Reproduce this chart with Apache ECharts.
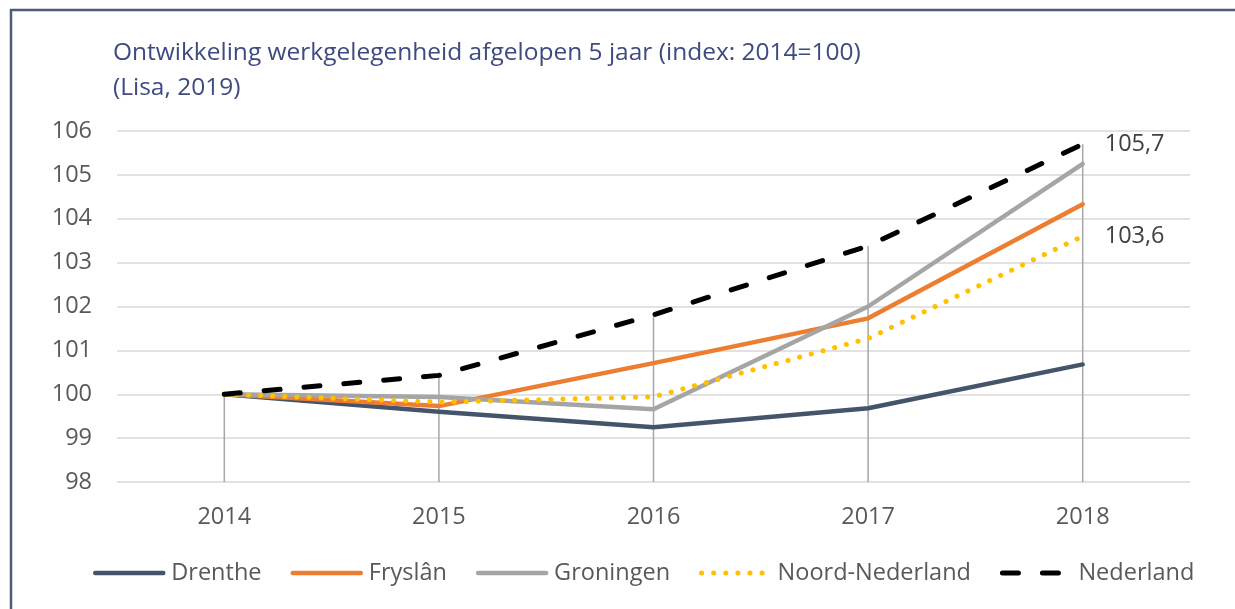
<!DOCTYPE html>
<html>
<head>
<meta charset="utf-8">
<script src="https://cdn.jsdelivr.net/npm/echarts@6/dist/echarts.min.js"></script>
<style>
html,body{margin:0;padding:0;background:#fff;}
#chart{width:1235px;height:609px;}
</style>
</head>
<body>
<div id="chart"></div>
<script>
const years = ['2014', '2015', '2016', '2017', '2018'];
const drenthe = [100, 99.6, 99.25, 99.68, 100.68];
const fryslan = [100, 99.73, 100.71, 101.73, 104.33];
const groningen = [100, 99.94, 99.66, 102.0, 105.25];
const noordNederland = [100, 99.82, 99.94, 101.27, 103.6];
const nederland = [100, 100.43, 101.81, 103.38, 105.7];
const yTicks = [98, 99, 100, 101, 102, 103, 104, 105, 106];

const FONT = '"Open Sans", "Noto Sans", sans-serif';
const FS = 23.5;
const fmt = v => String(v).replace('.', ',');
const allSeries = [drenthe, fryslan, groningen, noordNederland, nederland];
const dropData = years.map((y, i) => [i, Math.max(...allSeries.map(s => s[i]))]);

const chart = echarts.init(document.getElementById('chart'), null, {renderer: 'canvas'});

function lineSeries(name, data, color, extra) {
  return Object.assign({
    name: name,
    type: 'line',
    data: data,
    symbol: 'none',
    z: 3,
    lineStyle: {color: color, width: 4.5, cap: 'round', join: 'round'},
    itemStyle: {color: color}
  }, extra || {});
}

const option = {
  animation: false,
  textStyle: {fontFamily: FONT},
  title: {
    text: 'Ontwikkeling werkgelegenheid afgelopen 5 jaar (index: 2014=100)\n(Lisa, 2019)',
    left: 113,
    top: 36,
    padding: 0,
    textStyle: {fontFamily: FONT, fontSize: 24.5, fontWeight: 'normal', color: '#3e4a80', lineHeight: 35}
  },
  graphic: [
    {type: 'line', shape: {x1: 10, y1: 10, x2: 1235, y2: 10}, style: {stroke: '#4d5b76', lineWidth: 2.5}},
    {type: 'line', shape: {x1: 11, y1: 9, x2: 11, y2: 609}, style: {stroke: '#4d5b76', lineWidth: 2.5}}
  ],
  grid: {left: 117, right: 45, top: 131, bottom: 127, containLabel: false},
  legend: {
    left: 93,
    top: 561,
    padding: 0,
    itemWidth: 68,
    itemHeight: 26,
    itemGap: 29,
    itemStyle: {color: 'rgba(0,0,0,0)', borderWidth: 0, opacity: 0},
    lineStyle: {width: 'inherit'},
    textStyle: {fontFamily: FONT, fontSize: FS, color: '#595959', padding: [0, 0, 0, 3]},
    data: ['Drenthe', 'Fryslân', 'Groningen', 'Noord-Nederland', 'Nederland']
  },
  xAxis: {
    type: 'category',
    data: years,
    boundaryGap: true,
    axisLine: {show: false},
    axisTick: {show: false},
    axisLabel: {fontFamily: FONT, fontSize: FS, color: '#595959', margin: 23}
  },
  yAxis: {
    type: 'value',
    min: yTicks[0],
    max: yTicks[yTicks.length - 1],
    interval: 1,
    axisLine: {show: false},
    axisTick: {show: false},
    splitLine: {lineStyle: {color: '#d9d9d9', width: 1.5}},
    axisLabel: {fontFamily: FONT, fontSize: FS, color: '#595959', margin: 25}
  },
  series: [
    {
      name: 'drop',
      type: 'custom',
      z: 1,
      silent: true,
      data: dropData,
      renderItem: function (params, api) {
        const top = api.coord([api.value(0), api.value(1)]);
        const bottom = api.coord([api.value(0), yTicks[0]]);
        return {
          type: 'line',
          shape: {x1: top[0], y1: top[1], x2: bottom[0], y2: bottom[1]},
          style: {stroke: '#a6a6a6', lineWidth: 1.5}
        };
      }
    },
    lineSeries('Drenthe', drenthe, '#44546a'),
    lineSeries('Fryslân', fryslan, '#ed7d31'),
    lineSeries('Groningen', groningen, '#a5a5a5'),
    lineSeries('Noord-Nederland', noordNederland, '#ffc000', {
      z: 4,
      lineStyle: {color: '#ffc000', width: 5, type: [0.1, 12], cap: 'round', join: 'round'},
      endLabel: {show: true, distance: 22, formatter: p => fmt(p.value), fontFamily: FONT, fontSize: FS, color: '#404040'}
    }),
    lineSeries('Nederland', nederland, '#000000', {
      z: 5,
      lineStyle: {color: '#000000', width: 5, type: [16, 24], cap: 'round', join: 'round'},
      endLabel: {show: true, distance: 22, formatter: p => fmt(p.value), fontFamily: FONT, fontSize: FS, color: '#404040'}
    })
  ]
};
chart.setOption(option);
</script>
</body>
</html>
